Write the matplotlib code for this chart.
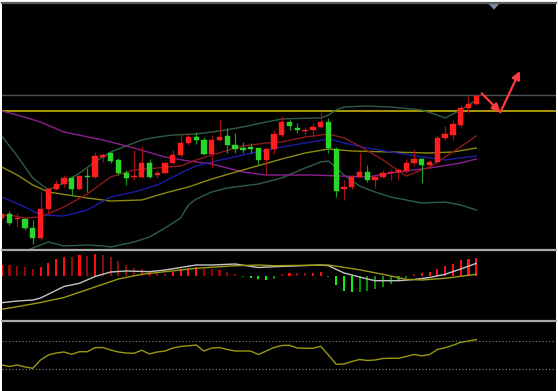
import matplotlib
matplotlib.use('Agg')
import matplotlib.pyplot as plt
from matplotlib.patches import Rectangle
from matplotlib.lines import Line2D
import numpy as np


###K线数据（开、高、低、收）
opens = [82.3, 86, 80.7, 80.7, 71.7, 62.3, 90.7, 110.7, 115.7, 122,
         110.7, 124, 123.3, 143.3, 146.7, 140, 126.7, 122.7, 122.7, 137.3,
         125, 127.3, 136.7, 145, 156.7, 162.7, 160, 146, 160, 164,
         155, 151.7, 153, 151.7, 140, 150.7, 165, 178, 172, 169,
         170, 172.7, 178, 151.3, 111, 112.7, 123.3, 128.3, 120, 123.3,
         126.7, 128.3, 129, 136.7, 140.7, 135, 138.3, 161.7, 165, 175,
         192.3, 195.7]
highs = [87, 89.3, 87.3, 82, 80, 108.3, 113.3, 120, 125.3, 124,
         125, 131.7, 148.3, 146.7, 148.3, 141.7, 130, 150, 154, 140.7,
         130, 138.3, 150, 167, 167, 168.3, 163.3, 165, 180.7, 171.7,
         167.3, 158.3, 156.7, 152, 152, 170, 184, 180, 176.7, 173.3,
         177.3, 187.7, 181.7, 153.3, 120, 125, 146.7, 135, 125, 130,
         130, 131.7, 140.7, 150.7, 141.7, 140, 165, 174, 180, 195,
         204, 205]
lows = [81, 75, 72.7, 70, 56, 60, 86, 110, 113.3, 105,
        110, 108.3, 121.7, 138.3, 136.7, 125, 115, 120, 122, 121.7,
        121.7, 126.7, 136, 143.3, 155, 156, 145, 131.7, 159.3, 146.7,
        146.7, 147.3, 147.3, 135, 126, 146, 163.3, 170, 166.7, 165,
        163.3, 171.7, 146.7, 103.3, 100, 111.3, 122.7, 118.3, 111.7, 121.7,
        120, 120, 126.7, 134, 116.7, 133.3, 137.3, 160, 160, 173.3,
        186.7, 195]
closes = [86, 76.7, 82.3, 71.7, 62.3, 90.7, 110.7, 116, 122, 110.7,
          124, 123.3, 144, 145, 139.3, 126.7, 121.7, 123.3, 137.3, 122.7,
          127.3, 136.7, 145, 157.3, 162.7, 160, 146, 160, 163.3, 155,
          151, 150, 151, 140, 150.7, 165.7, 178, 174, 170, 170,
          172.7, 178, 151.7, 109.3, 112.7, 123.3, 128.3, 120, 123.3, 126.7,
          128.3, 130, 136.7, 140.7, 135, 138.3, 162.3, 165.7, 175.7, 192.3,
          196, 204]

###主图指标线（读取的K线序号, 数值）
upper_idx = [0, 2, 4, 6, 8, 10, 12, 14, 16, 18, 20, 22, 25, 28, 31, 34, 36, 40, 41, 42, 43, 44, 47, 50, 54, 56, 57, 59, 61]
upper_val = [164, 144, 122, 110, 117, 127, 138, 148, 154, 160, 163, 165, 166, 169, 173, 178, 181, 182, 182, 185, 190, 193, 194, 193, 190, 185, 182, 190, 200]
lower_idx = [0, 2, 4, 6, 8, 11, 13, 14, 17, 19, 21, 23, 24, 25, 27, 29, 33, 36, 39, 41, 42, 43, 44, 46, 48, 50, 54, 57, 59, 61]
lower_val = [38, 45, 52, 58, 54, 55, 54, 53, 58, 63, 72, 82, 95, 101, 108, 112, 116, 122, 132, 138, 139, 132, 125, 114, 108, 103, 97, 98, 95, 90]
ma_red_idx = [0, 1, 3, 5, 8, 11, 14, 17, 20, 23, 25, 27, 31, 34, 36, 39, 42, 44, 46, 49, 52, 55, 58, 61]
ma_red_val = [84, 85, 82, 83, 93, 106, 123, 130, 132, 134, 140, 145, 154, 157, 158, 163, 166, 162, 154, 140, 124, 133, 148, 164]
ma_blue_idx = [0, 3, 5, 8, 11, 14, 17, 20, 23, 25, 27, 31, 36, 39, 42, 44, 47, 50, 55, 57, 61]
ma_blue_val = [103, 93, 85, 84, 90, 103, 108, 115, 127, 134, 138, 145, 153, 157, 161, 157, 152, 148, 142, 140, 144]
ma_olive_idx = [0, 2, 4, 6, 11, 14, 18, 21, 24, 27, 31, 36, 39, 42, 45, 50, 55, 58, 61]
ma_olive_val = [133, 125, 115, 108, 102, 99, 100, 107, 113, 121, 130, 141, 147, 151, 149, 148, 147, 148, 152]
ma_purple_idx = [0, 2, 5, 8, 13, 17, 21, 24, 27, 31, 34, 40, 47, 50, 55, 59, 61]
ma_purple_val = [189, 185, 178, 168, 160, 152, 143, 139, 136, 128, 125, 125, 123, 127, 132, 137, 141]

level_yellow = 189
level_gray = 205
arrow_idx = [61.7, 64.1, 66.6]
arrow_val = [206.7, 187.7, 229]

###MACD
macd_hist = [11.0, 10.5, 9.8, 8.5, 6.5, 8.5, 12.8, 16.2, 18.8, 18.5,
             20.2, 19.5, 21.2, 20.2, 18.2, 14.8, 10.5, 7.2, 6.2, 3.2,
             2.2, 1.2, 3.8, 6.2, 7.8, 8.8, 6.5, 6.5, 5.5, 3.8,
             1.8, -1.8, -2.8, -3.5, -4.5, -3.8, 1.2, 2.5, 2.5, 2.2,
             2.5, 3.2, -1.5, -9.5, -15.2, -16.8, -16.2, -15.2, -13.8, -11.8,
             -8.5, -5.5, -2.8, 1.2, 2.5, 3.2, 6.5, 9.2, 11.5, 15.2,
             16.5, 17.8]
macd_idx = [0, 2, 4, 5, 8, 10, 12, 14, 16, 19, 21, 25, 27, 30, 33, 35, 41, 42, 44, 47, 48, 51, 53, 55, 57, 59, 61]
macd_val = [-27.2, -25.5, -24.5, -22.5, -11, -7.8, -1, 3.5, 4.5, 3.8, 5.5, 10.5, 10.5, 11.5, 8, 8.8, 10.5, 9.8, 2.5, -3.5, -5.2, -5.2, -4, -2, 1.2, 6.5, 12.2]
signal_idx = [0, 2, 5, 8, 12, 15, 18, 21, 25, 30, 33, 35, 42, 46, 49, 52, 54, 57, 59, 61]
signal_val = [-33.8, -31.2, -27, -22, -11.5, -3.5, 1.2, 3.8, 7.2, 9.8, 10.5, 9.8, 10.5, 5.7, 1.2, -3.8, -4.5, -2.8, -0.8, 1.2]

###RSI
rsi = [35.4, 33.2, 35.4, 32.5, 30.6, 42.7, 50, 52.9, 54.4, 51,
       54.8, 54.8, 60.7, 60.9, 57.3, 54.4, 52.9, 52.5, 56.9, 51.5,
       54.4, 55.8, 60.2, 62.4, 63.4, 64.6, 55.8, 60.2, 60.9, 58,
       55.8, 55.8, 55.8, 50.7, 55.8, 60.9, 63.9, 64.2, 60.2, 59.8,
       59.8, 62.7, 50, 36.4, 36.9, 40.5, 43.4, 42, 42.7, 44.9,
       45.2, 45.2, 47.8, 50.7, 48.8, 50.7, 58, 60.7, 64.2, 68.5,
       70.4, 72.6]
rsi_levels = [70, 30]


###画布与三个窗口
W, H = 558, 391
fig = plt.figure(figsize=(W / 100, H / 100), dpi=100, facecolor='white')
fig.patches.append(Rectangle((2 / W, 0), 554 / W, 1 - 2 / H, transform=fig.transFigure,
                             facecolor='black', edgecolor='none', zorder=-10))


def make_axes(top, bottom):
    ax = fig.add_axes([2 / W, 1 - bottom / H, 554 / W, (bottom - top) / H], facecolor='black')
    ax.set_xticks([])
    ax.set_yticks([])
    for s in ax.spines.values():
        s.set_visible(False)
    ax.set_xlim(0.04, 71.25)
    return ax


ax1 = make_axes(4, 249)
ax2 = make_axes(251, 320)
ax3 = make_axes(322, 391)
ax1.set_ylim(51, 296)
ax2.set_ylim(-44.5, 24.5)
ax3.set_ylim(-2.6, 98.2)

for py, col in [(3, '#5c5c5c'), (250, '#a8a8a8'), (321, '#a8a8a8')]:
    fig.add_artist(Line2D([2 / W, 556 / W], [1 - py / H, 1 - py / H], transform=fig.transFigure,
                          color=col, lw=1.6, zorder=10))

###主图
x = np.arange(len(opens))
o = np.array(opens)
c = np.array(closes)
up = c >= o
body_col = np.where(up, '#ff1e1e', '#2bd62b')
wick_col = np.where(up, '#a01010', '#1e9a1e')

ax1.axhline(level_gray, color='#4c5158', lw=1.0, zorder=1)
ax1.axhline(level_yellow, color='#d6c200', lw=1.1, zorder=1)
ax1.plot(upper_idx, upper_val, color='#2f5e45', lw=1.0, zorder=2)
ax1.plot(lower_idx, lower_val, color='#2f5e45', lw=1.0, zorder=2)
ax1.plot(ma_purple_idx, ma_purple_val, color='#8e1f8e', lw=1.0, zorder=2)
ax1.plot(ma_olive_idx, ma_olive_val, color='#8c8a10', lw=1.0, zorder=2)
ax1.plot(ma_blue_idx, ma_blue_val, color='#1c1ca6', lw=1.0, zorder=2)
ax1.plot(ma_red_idx, ma_red_val, color='#8c1a1a', lw=1.0, zorder=2)

ax1.vlines(x, lows, highs, colors=wick_col, lw=0.9, zorder=3)
ax1.bar(x, np.maximum(np.abs(c - o), 1.0), bottom=np.minimum(o, c), width=0.68,
        color=body_col, edgecolor=body_col, lw=0.3, zorder=4)

arrow_style = dict(arrowstyle='-|>', color='#ff3c3c', lw=1.6, mutation_scale=12, shrinkA=0, shrinkB=0)
ax1.annotate('', xy=(arrow_idx[1], arrow_val[1]), xytext=(arrow_idx[0], arrow_val[0]), arrowprops=arrow_style, zorder=5)
ax1.annotate('', xy=(arrow_idx[2], arrow_val[2]), xytext=(arrow_idx[1], arrow_val[1]), arrowprops=arrow_style, zorder=5)

ax1.plot([63.1], [294.3], marker=[(-1, 0.55), (1, 0.55), (0, -0.55)], ms=7, color='#7d8ca0',
         clip_on=False, zorder=6)

###MACD窗口
h = np.array(macd_hist)
prev = np.concatenate([[0], h[:-1]])
grow = np.abs(h) > np.abs(prev)
hist_col = np.where(h >= 0, np.where(grow, '#ff1010', '#900a0a'), np.where(grow, '#12f012', '#0a8c0a'))
ax2.bar(x, h, width=0.27, color=hist_col, zorder=2)
ax2.plot(macd_idx, macd_val, color='#c4c4c4', lw=1.0, zorder=3)
ax2.plot(signal_idx, signal_val, color='#9c9a14', lw=1.0, zorder=3)

###RSI窗口
for lv in rsi_levels:
    ax3.axhline(lv, color='#8a8a8a', lw=0.8, ls=(0, (1, 2)))
ax3.plot(x, rsi, color='#9a9812', lw=1.0)

plt.savefig('out.png', dpi=100, facecolor='white')
